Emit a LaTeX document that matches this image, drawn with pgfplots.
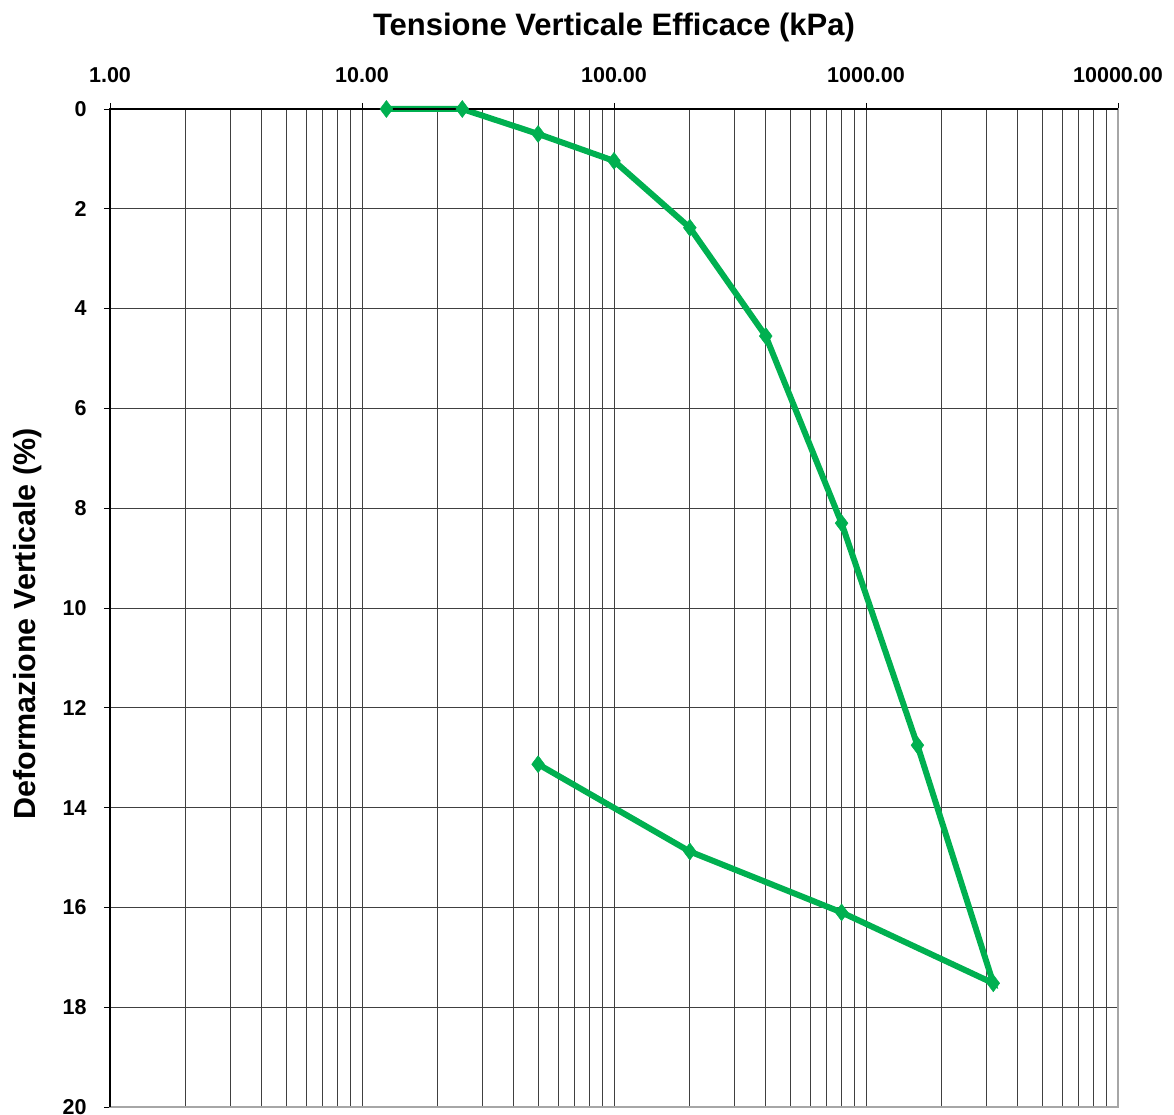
\documentclass[border=0pt]{standalone}
\usepackage{pgfplots}
\pgfplotsset{compat=1.18}
\usepackage{fontspec}
\setmainfont{Liberation Sans}
\definecolor{lgreen}{HTML}{00B050}
\definecolor{gridc}{HTML}{404040}
\begin{document}
\begin{tikzpicture}[x=1pt,y=1pt]
\useasboundingbox (-110,-8) rectangle (1064,1107);
\begin{axis}[
  at={(0,0)}, anchor=south west,
  scale only axis, width=1008pt, height=998pt,
  xmode=log, log basis x=10,
  xmin=1, xmax=10000,
  ymin=0, ymax=20, y dir=reverse,
  xtick={1,10,100,1000,10000},
  minor xtick={2,3,4,5,6,7,8,9,20,30,40,50,60,70,80,90,200,300,400,500,600,700,800,900,2000,3000,4000,5000,6000,7000,8000,9000},
  xticklabels={1.00,10.00,100.00,1000.00,10000.00},
  ytick={0,2,...,20},
  yticklabels={0,2,4,6,8,10,12,14,16,18,20},
  xtick pos=right, xticklabel pos=right,
  ytick pos=left,
  tick align=outside,
  major tick length=6pt, minor tick length=0pt,
  tick style={black, line width=0.8pt},
  xmajorgrids, xminorgrids, ymajorgrids,
  major grid style={gridc, line width=1pt},
  minor grid style={gridc, line width=1pt},
  axis line style={gray!70, line width=1.2pt},
  xticklabel style={font=\fontsize{21.5}{24}\selectfont\bfseries, anchor=center, yshift=28pt},
  yticklabel style={font=\fontsize{21.5}{24}\selectfont\bfseries, anchor=east, xshift=-14pt},
  title={Tensione Verticale Efficace (kPa)},
  title style={font=\fontsize{31}{36}\selectfont\bfseries, at={(axis description cs:0.5,1.0757)}, anchor=center},
  ylabel={Deformazione Verticale (\%)},
  every axis y label/.style={font=\fontsize{30.5}{36}\selectfont\bfseries, at={(axis description cs:-0.0813,0.484)}, anchor=center, rotate=90},
  clip=false,
]
\addplot[lgreen, line width=6pt, mark=diamond*, mark size=8.5pt, mark options={lgreen, line width=0.5pt}]
coordinates {
(12.5,0)
(25,0)
(50,0.50)
(100,1.04)
(200,2.38)
(400,4.55)
(800,8.30)
(1600,12.75)
(3200,17.52)
(800,16.10)
(200,14.88)
(50,13.13)
};
\draw[black, line width=1.5pt] (rel axis cs:0,0) -- (rel axis cs:0,1) -- (rel axis cs:1,1);
\end{axis}
\end{tikzpicture}
\end{document}
